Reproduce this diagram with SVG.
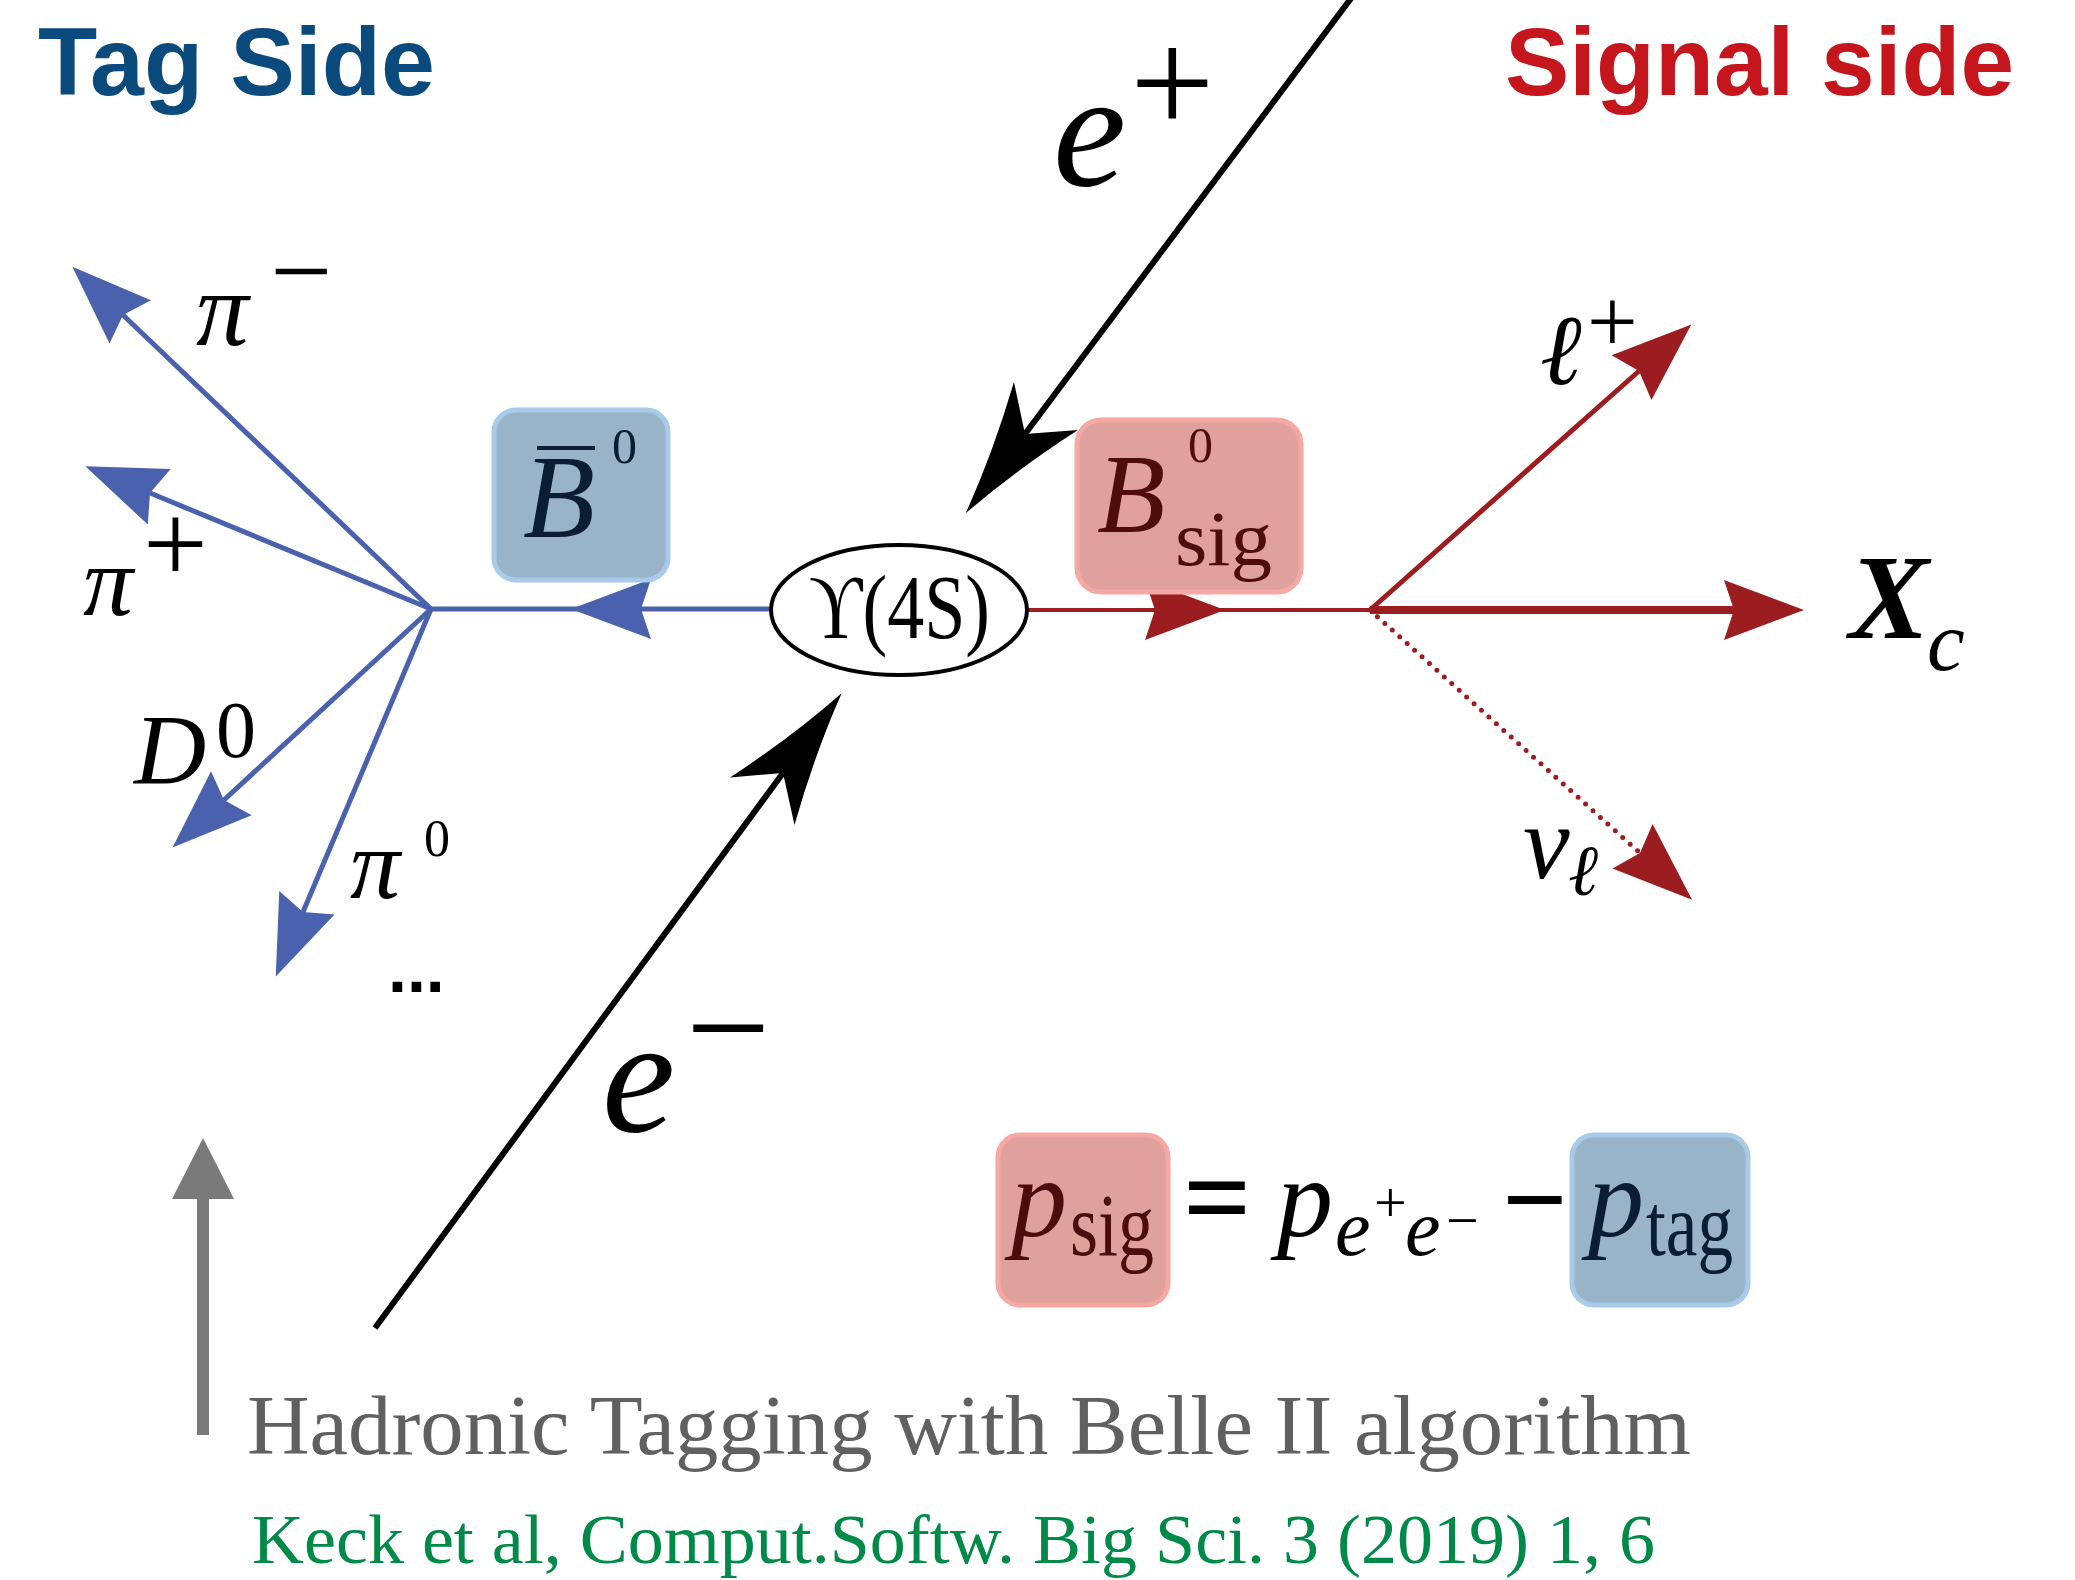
<svg xmlns="http://www.w3.org/2000/svg" width="2075" height="1580" viewBox="0 0 2075 1580">
<style>
.title{font-family:"Liberation Sans",Arial,sans-serif;font-weight:bold;font-size:97px}
.math{font-family:"Liberation Serif","DejaVu Serif",serif;font-style:italic}
.rm{font-family:"Liberation Serif","DejaVu Serif",serif;font-style:normal}
.blue{stroke:#4a61ad;stroke-width:5;fill:none}
.red{stroke:#9b1d20;stroke-width:5;fill:none}
.blk{stroke:#000;stroke-width:6;fill:none}
.bluebox{fill:#99b3c9;stroke:#a7cbe8;stroke-width:5}
.redbox{fill:#dfa19b;stroke:#f6a8a4;stroke-width:5}
</style>
<defs>
<marker id="arrB" markerUnits="userSpaceOnUse" markerWidth="90" markerHeight="70" refX="10" refY="0" orient="auto" overflow="visible"><path d="M0,-30 L80,0 L0,30 L10,0 Z" fill="#4a61ad"/></marker>
<marker id="arrR" markerUnits="userSpaceOnUse" markerWidth="90" markerHeight="70" refX="10" refY="0" orient="auto" overflow="visible"><path d="M0,-30 L80,0 L0,30 L10,0 Z" fill="#9b1d20"/></marker>
<marker id="arrK" markerUnits="userSpaceOnUse" markerWidth="140" markerHeight="90" refX="35" refY="0" orient="auto" overflow="visible"><path d="M0,-40 Q70,-14 134,0 Q70,14 0,40 L35,0 Z" fill="#000"/></marker>
<marker id="arrG" markerUnits="userSpaceOnUse" markerWidth="70" markerHeight="70" refX="0" refY="0" orient="auto" overflow="visible"><path d="M0,-31 L61,0 L0,31 Z" fill="#7a7a7a"/></marker>
</defs>
<rect width="2075" height="1580" fill="#fff"/>

<g id="connectors">
  <path class="blk" d="M1352,-3 L1025,434" marker-end="url(#arrK)"/>
  <path class="blk" d="M375,1328 L783,773" marker-end="url(#arrK)"/>
  <path class="blue" d="M770,609 L641,609" marker-end="url(#arrB)"/>
  <path class="blue" d="M641,609 L431,609"/>
  <path class="blue" d="M431,609 L123,315" marker-end="url(#arrB)"/>
  <path class="blue" d="M431,609 L150,493" marker-end="url(#arrB)"/>
  <path class="blue" d="M431,609 L224,800" marker-end="url(#arrB)"/>
  <path class="blue" d="M431,609 L303,912" marker-end="url(#arrB)"/>
  <path class="red" style="stroke-width:4" d="M1028,610 L1155,610" marker-end="url(#arrR)"/>
  <path class="red" style="stroke-width:4" d="M1155,610 L1370,610"/>
  <path class="red" d="M1370,610 L1639,371" marker-end="url(#arrR)"/>
  <path class="red" style="stroke-width:8" d="M1370,610 L1734,610" marker-end="url(#arrR)"/>
  <path class="red" style="stroke-width:5;stroke-dasharray:0 10;stroke-linecap:round" d="M1370,610 L1640,853"/>
  <path d="M1630,844 L1640,853" fill="none" stroke="none" marker-end="url(#arrR)"/>
  <path d="M203,1435 L203,1199" stroke="#7a7a7a" stroke-width="12" fill="none" marker-end="url(#arrG)"/>
</g>

<g id="tag-title"><text class="title" x="38" y="95" fill="#0b4a7c" textLength="397" lengthAdjust="spacingAndGlyphs">Tag Side</text></g>
<g id="signal-title"><text class="title" x="1505" y="95" fill="#c5161d" textLength="509" lengthAdjust="spacingAndGlyphs">Signal side</text></g>

<g id="upsilon">
  <ellipse cx="899" cy="610" rx="128" ry="65" fill="#fff" stroke="#000" stroke-width="4"/>
  <text class="rm" x="809" y="638" font-size="90" textLength="181" lengthAdjust="spacingAndGlyphs">ϒ(4S)</text>
</g>

<g id="eplus">
  <text class="math" x="1053" y="185" font-size="165">e</text>
  <text class="rm" x="1130" y="133" font-size="150">+</text>
</g>
<g id="eminus">
  <text class="math" x="602" y="1131" font-size="165">e</text>
  <text class="rm" x="686" y="1078" font-size="150">−</text>
</g>

<g id="B0bar">
  <rect class="bluebox" x="494" y="410" width="174" height="170" rx="22"/>
  <line x1="537" y1="448" x2="595" y2="448" stroke="#0b1d33" stroke-width="4"/>
  <text class="math" x="523" y="537" font-size="118" fill="#0b1d33">B</text>
  <text class="rm" x="612" y="463" font-size="50" fill="#0b1d33">0</text>
</g>

<g id="B0sig">
  <rect class="redbox" x="1077" y="420" width="224" height="172" rx="24"/>
  <text class="math" x="1097" y="532" font-size="112" fill="#4e0c0c">B</text>
  <text class="rm" x="1188" y="462" font-size="50" fill="#4e0c0c">0</text>
  <text class="rm" x="1175" y="565" font-size="78" fill="#4e0c0c" textLength="97" lengthAdjust="spacingAndGlyphs">sig</text>
</g>

<g id="pi-minus">
  <text class="math" x="196" y="345" font-size="105">π</text>
  <text class="rm" x="270" y="308" font-size="110">−</text>
</g>
<g id="pi-plus">
  <text class="math" x="83" y="615" font-size="100">π</text>
  <text class="rm" x="143" y="582" font-size="115">+</text>
</g>
<g id="D0">
  <text class="math" x="134" y="783" font-size="100">D</text>
  <text class="rm" x="216" y="757" font-size="80">0</text>
</g>
<g id="pi0">
  <text class="math" x="350" y="898" font-size="100">π</text>
  <text class="rm" x="424" y="856" font-size="52">0</text>
</g>
<g id="dots"><text x="388" y="992" font-family="Liberation Sans,Arial,sans-serif" font-weight="bold" font-size="68">...</text></g>

<g id="lepton">
  <text class="math" x="1540" y="384" font-size="100">ℓ</text>
  <text class="rm" x="1587" y="352" font-size="90">+</text>
</g>
<g id="Xc">
  <text x="1849" y="638" font-family="Liberation Serif,serif" font-weight="bold" font-style="italic" font-size="120">X</text>
  <text class="math" x="1927" y="670" font-size="85">c</text>
</g>
<g id="neutrino">
  <text class="math" x="1523" y="878" font-size="105">ν</text>
  <text class="math" x="1568" y="895" font-size="72">ℓ</text>
</g>

<g id="formula">
  <rect class="redbox" x="998" y="1135" width="170" height="170" rx="22"/>
  <rect class="bluebox" x="1572" y="1135" width="176" height="170" rx="22"/>
  <text class="math" x="1011" y="1236" font-size="112" fill="#4a0c0c">p</text>
  <text class="rm" x="1070" y="1255" font-size="88" fill="#4a0c0c" textLength="84" lengthAdjust="spacingAndGlyphs">sig</text>
  <text class="rm" x="1183" y="1238" font-size="120" font-weight="bold">=</text>
  <text class="math" x="1277" y="1236" font-size="112">p</text>
  <text class="math" x="1335" y="1255" font-size="80">e</text>
  <text class="rm" x="1374" y="1222" font-size="58">+</text>
  <text class="math" x="1405" y="1255" font-size="80">e</text>
  <text class="rm" x="1446" y="1240" font-size="58">−</text>
  <text class="rm" x="1502" y="1238" font-size="115" font-weight="bold">−</text>
  <text class="math" x="1588" y="1236" font-size="112" fill="#0b1d33">p</text>
  <text class="rm" x="1646" y="1255" font-size="88" fill="#0b1d33" textLength="87" lengthAdjust="spacingAndGlyphs">tag</text>
</g>

<g id="caption">
  <text class="rm" x="247" y="1454" font-size="85" fill="#606060" textLength="1444" lengthAdjust="spacingAndGlyphs">Hadronic Tagging with Belle II algorithm</text>
  <text class="rm" x="252" y="1563" font-size="70" fill="#008a48" textLength="1403" lengthAdjust="spacingAndGlyphs">Keck et al, Comput.Softw. Big Sci. 3 (2019) 1, 6</text>
</g>
</svg>
